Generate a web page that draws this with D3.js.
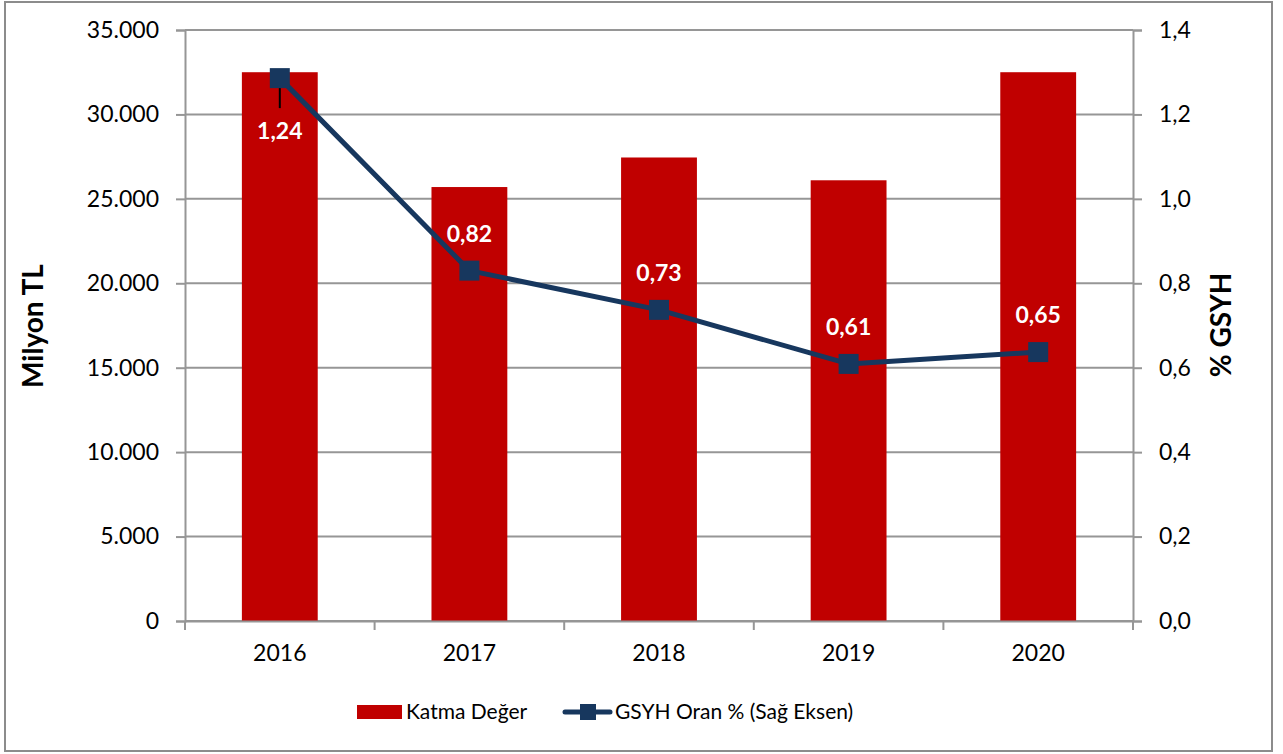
<!DOCTYPE html>
<html>
<head>
<meta charset="utf-8">
<script src="https://cdn.jsdelivr.net/npm/d3@7"></script>
<style>
  body { margin: 0; background: #fff; }
  text { font-family: Lato, "Open Sans", sans-serif; }
</style>
</head>
<body>
<div id="chart"></div>
<script>
const years = ["2016", "2017", "2018", "2019", "2020"];
const katmaDeger = [32500, 25700, 27450, 26100, 32500];
const gsyhOran = [1.286, 0.83, 0.737, 0.609, 0.637];
const gsyhLabels = ["1,24", "0,82", "0,73", "0,61", "0,65"];
const leftTicks = [0, 5000, 10000, 15000, 20000, 25000, 30000, 35000];
const rightTicks = [0, 0.2, 0.4, 0.6, 0.8, 1.0, 1.2, 1.4];

const width = 1283, height = 754;
const margin = {top: 30, right: 150, bottom: 133, left: 185};
const innerWidth = width - margin.left - margin.right;
const innerHeight = height - margin.top - margin.bottom;

const svg = d3.select("#chart").append("svg")
    .attr("width", width)
    .attr("height", height);

// outer frame
svg.append("rect")
    .attr("x", 5).attr("y", 2)
    .attr("width", 1267).attr("height", 749)
    .attr("fill", "none")
    .attr("stroke", "#8c8c8c")
    .attr("stroke-width", 2);

const g = svg.append("g").attr("transform", `translate(${margin.left},${margin.top})`);

const x = d3.scaleBand().domain(years).range([0, innerWidth]).paddingInner(0.6).paddingOuter(0.3);
const xCat = d3.scaleBand().domain(years).range([0, innerWidth]);
const yLeft = d3.scaleLinear().domain([0, 35000]).range([innerHeight, 0]);
const yRight = d3.scaleLinear().domain([0, 1.4]).range([innerHeight, 0]);

const fmtLeft = d => d === 0 ? "0" : d3.format(",")(d).replace(/,/g, ".");
const fmtRight = d => d3.format(".1f")(d).replace(".", ",");

// gridlines
g.append("g").selectAll("line")
    .data(leftTicks)
    .join("line")
    .attr("x1", 0).attr("x2", innerWidth)
    .attr("y1", d => yLeft(d)).attr("y2", d => yLeft(d))
    .attr("stroke", "#969696")
    .attr("stroke-width", 2);

// bars
g.append("g").selectAll("rect")
    .data(years)
    .join("rect")
    .attr("x", d => x(d))
    .attr("width", x.bandwidth())
    .attr("y", (d, i) => yLeft(katmaDeger[i]))
    .attr("height", (d, i) => innerHeight - yLeft(katmaDeger[i]))
    .attr("fill", "#c00000");

// axes
const leftAxis = g.append("g")
    .call(d3.axisLeft(yLeft).tickValues(leftTicks).tickFormat(fmtLeft).tickSize(9).tickPadding(17));
const rightAxis = g.append("g")
    .attr("transform", `translate(${innerWidth},0)`)
    .call(d3.axisRight(yRight).tickValues(rightTicks).tickFormat(fmtRight).tickSize(9).tickPadding(17));
const bottomAxis = g.append("g")
    .attr("transform", `translate(0,${innerHeight})`)
    .call(d3.axisBottom(xCat).tickSize(0).tickPadding(24));

[leftAxis, rightAxis, bottomAxis].forEach(a => {
    a.attr("font-family", "Lato, 'Open Sans', sans-serif").attr("font-size", 23);
    a.select(".domain").attr("stroke", "#969696").attr("stroke-width", 2);
    a.selectAll(".tick line").attr("stroke", "#969696").attr("stroke-width", 2);
    a.selectAll("text").attr("fill", "#000");
});

// category boundary ticks on x axis
g.append("g").selectAll("line")
    .data(years.concat(["end"]))
    .join("line")
    .attr("x1", (d, i) => i < years.length ? xCat(d) : innerWidth)
    .attr("x2", (d, i) => i < years.length ? xCat(d) : innerWidth)
    .attr("y1", innerHeight).attr("y2", innerHeight + 9)
    .attr("stroke", "#969696")
    .attr("stroke-width", 2);

// line series
const cx = d => xCat(d) + xCat.bandwidth() / 2;
const line = d3.line()
    .x((d, i) => cx(years[i]))
    .y(d => yRight(d));

g.append("path")
    .datum(gsyhOran)
    .attr("d", line)
    .attr("fill", "none")
    .attr("stroke", "#17375e")
    .attr("stroke-width", 5)
    .attr("stroke-linejoin", "round");

// leader line for first label
g.append("line")
    .attr("x1", cx(years[0])).attr("x2", cx(years[0]))
    .attr("y1", yRight(gsyhOran[0])).attr("y2", yRight(gsyhOran[0]) + 30)
    .attr("stroke", "#000")
    .attr("stroke-width", 2);

g.append("g").selectAll("rect")
    .data(gsyhOran)
    .join("rect")
    .attr("x", (d, i) => cx(years[i]) - 10)
    .attr("y", d => yRight(d) - 10)
    .attr("width", 20).attr("height", 20)
    .attr("fill", "#17375e");

// data labels
g.append("g").selectAll("text")
    .data(gsyhLabels)
    .join("text")
    .attr("x", (d, i) => cx(years[i]))
    .attr("y", (d, i) => i === 0 ? yRight(gsyhOran[i]) + 53 : yRight(gsyhOran[i]) - 37)
    .attr("dy", "0.35em")
    .attr("text-anchor", "middle")
    .attr("font-size", 23)
    .attr("font-weight", "bold")
    .attr("fill", "#fff")
    .text(d => d);

// axis titles
svg.append("text")
    .attr("transform", `translate(33,326) rotate(-90)`)
    .attr("text-anchor", "middle")
    .attr("dy", "0.35em")
    .attr("font-size", 28)
    .attr("font-weight", "bold")
    .text("Milyon TL");

svg.append("text")
    .attr("transform", `translate(1221,325) rotate(-90)`)
    .attr("text-anchor", "middle")
    .attr("dy", "0.35em")
    .attr("font-size", 28)
    .attr("font-weight", "bold")
    .text("% GSYH");

// legend
const legend = svg.append("g").attr("transform", "translate(0,712)");
legend.append("rect")
    .attr("x", 357).attr("y", -7)
    .attr("width", 45).attr("height", 14)
    .attr("fill", "#c00000");
legend.append("text")
    .attr("x", 406).attr("dy", "0.35em")
    .attr("font-size", 21)
    .text("Katma Değer");
legend.append("line")
    .attr("x1", 565).attr("x2", 610)
    .attr("stroke", "#17375e")
    .attr("stroke-width", 5)
    .attr("stroke-linecap", "round");
legend.append("rect")
    .attr("x", 580).attr("y", -8)
    .attr("width", 16).attr("height", 16)
    .attr("fill", "#17375e");
legend.append("text")
    .attr("x", 615).attr("dy", "0.35em")
    .attr("font-size", 21)
    .text("GSYH Oran % (Sağ Eksen)");
</script>
</body>
</html>
